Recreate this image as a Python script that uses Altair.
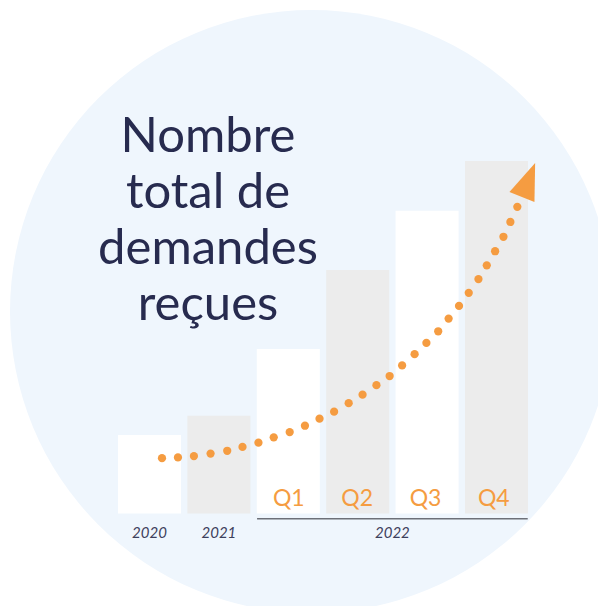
import altair as alt
import pandas as pd

# ---- data ----
categories = ["2020", "2021", "Q1", "Q2", "Q3", "Q4"]
values = [22.3, 27.7, 46.7, 69.1, 85.9, 100.0]
bar_colors = ["#ffffff", "#ececec", "#ffffff", "#ececec", "#ffffff", "#ececec"]
quarter_labels = ["Q1", "Q2", "Q3", "Q4"]

year_labels = ["2020", "2021", "2022"]
year_pos = [0, 1, 3.5]          # in bar-index units
group_2022 = [1.55, 5.45]       # span of the 2022 bracket, bar-index units

# dotted trend curve (bar-index units, value units)
trend_x = [0.18, 0.41, 0.64, 0.88, 1.12, 1.34, 1.57, 1.79, 2.02, 2.24,
           2.45, 2.66, 2.87, 3.07, 3.27, 3.46, 3.64, 3.82, 3.99, 4.16,
           4.31, 4.46, 4.60, 4.74, 4.86, 4.98, 5.10, 5.20, 5.30]
trend_y = [15.7, 15.9, 16.3, 17.0, 17.8, 18.9, 20.1, 21.6, 23.1, 24.9,
           26.9, 28.9, 31.3, 33.7, 36.4, 39.0, 42.0, 45.2, 48.4, 51.7,
           55.3, 58.9, 62.6, 66.5, 70.4, 74.4, 78.5, 82.7, 87.0]
arrow_x = [5.43]
arrow_y = [93.0]

title_lines = ["Nombre", "total de", "demandes", "reçues"]

ORANGE = "#f59c41"
NAVY = "#272b4f"
CIRCLE = "#eff6fd"

df_bars = pd.DataFrame({"cat": categories, "val": values, "base": [0] * 6})
df_q = pd.DataFrame({"cat": quarter_labels, "base": [0] * 4})
df_years = pd.DataFrame({"label": year_labels, "ix": year_pos, "base": [0] * 3})
df_bracket = pd.DataFrame({"x1": [group_2022[0]], "x2": [group_2022[1]], "base": [0]})
df_trend = pd.DataFrame({"ix": trend_x, "v": trend_y})
df_arrow = pd.DataFrame({"ix": arrow_x, "v": arrow_y})
df_one = pd.DataFrame({"a": [0]})

xband = alt.Scale(domain=categories, range=[110, 520], paddingInner=0.092, paddingOuter=0)
xlin = alt.Scale(domain=[0, 5], range=[141.5, 488.5], nice=False, zero=False)
yscale = alt.Scale(domain=[0, 100], range=[505.5, 153], nice=False)

circle = alt.Chart(df_one).mark_point(
    shape="circle", filled=True, size=603 * 603, color=CIRCLE, opacity=1, strokeWidth=0
).encode(x=alt.value(303.5), y=alt.value(303.5))

bars = alt.Chart(df_bars).mark_bar().encode(
    x=alt.X("cat:N", scale=xband, axis=None, sort=categories),
    y=alt.Y("val:Q", scale=yscale, axis=None),
    y2=alt.Y2("base:Q"),
    color=alt.Color("cat:N", scale=alt.Scale(domain=categories, range=bar_colors), legend=None),
)

qlabels = alt.Chart(df_q).mark_text(
    font="Lato", fontSize=23, color=ORANGE, baseline="alphabetic", align="center", dy=-7.5
).encode(
    x=alt.X("cat:N", scale=xband, axis=None, sort=categories),
    y=alt.Y("base:Q", scale=yscale, axis=None),
    text="cat:N",
)

bracket = alt.Chart(df_bracket).mark_rule(color="#6d7078", strokeWidth=1.5, yOffset=5.2).encode(
    x=alt.X("x1:Q", scale=xlin, axis=None),
    x2="x2:Q",
    y=alt.Y("base:Q", scale=yscale, axis=None),
)

years = alt.Chart(df_years).mark_text(
    font="Lato", fontSize=15, fontStyle="italic", color="#3d405c",
    baseline="alphabetic", align="center", dy=24.5
).encode(
    x=alt.X("ix:Q", scale=xlin, axis=None),
    y=alt.Y("base:Q", scale=yscale, axis=None),
    text="label:N",
)

dots = alt.Chart(df_trend).mark_circle(size=68, color=ORANGE, opacity=1).encode(
    x=alt.X("ix:Q", scale=xlin, axis=None),
    y=alt.Y("v:Q", scale=yscale, axis=None),
)

arrow = alt.Chart(df_arrow).mark_point(
    shape="M0.44,-1.135L-0.845,0.315L0.405,0.815Z", filled=True, size=1600,
    color=ORANGE, opacity=1, strokeWidth=0
).encode(
    x=alt.X("ix:Q", scale=xlin, axis=None),
    y=alt.Y("v:Q", scale=yscale, axis=None),
)

title = alt.Chart(df_one).mark_text(
    text=title_lines, font="Lato", fontSize=49, color=NAVY, align="center",
    baseline="alphabetic", lineHeight=56
).encode(x=alt.value(200), y=alt.value(143.5))

chart = alt.layer(
    circle, bars, qlabels, bracket, years, dots, arrow, title
).resolve_scale(x="independent").properties(
    width=590, height=598, padding=0,
    autosize=alt.AutoSizeParams(type="none"),
    background="white",
).configure_view(strokeWidth=0)

chart.save("out.html", embed_options={"renderer": "svg", "actions": False})
